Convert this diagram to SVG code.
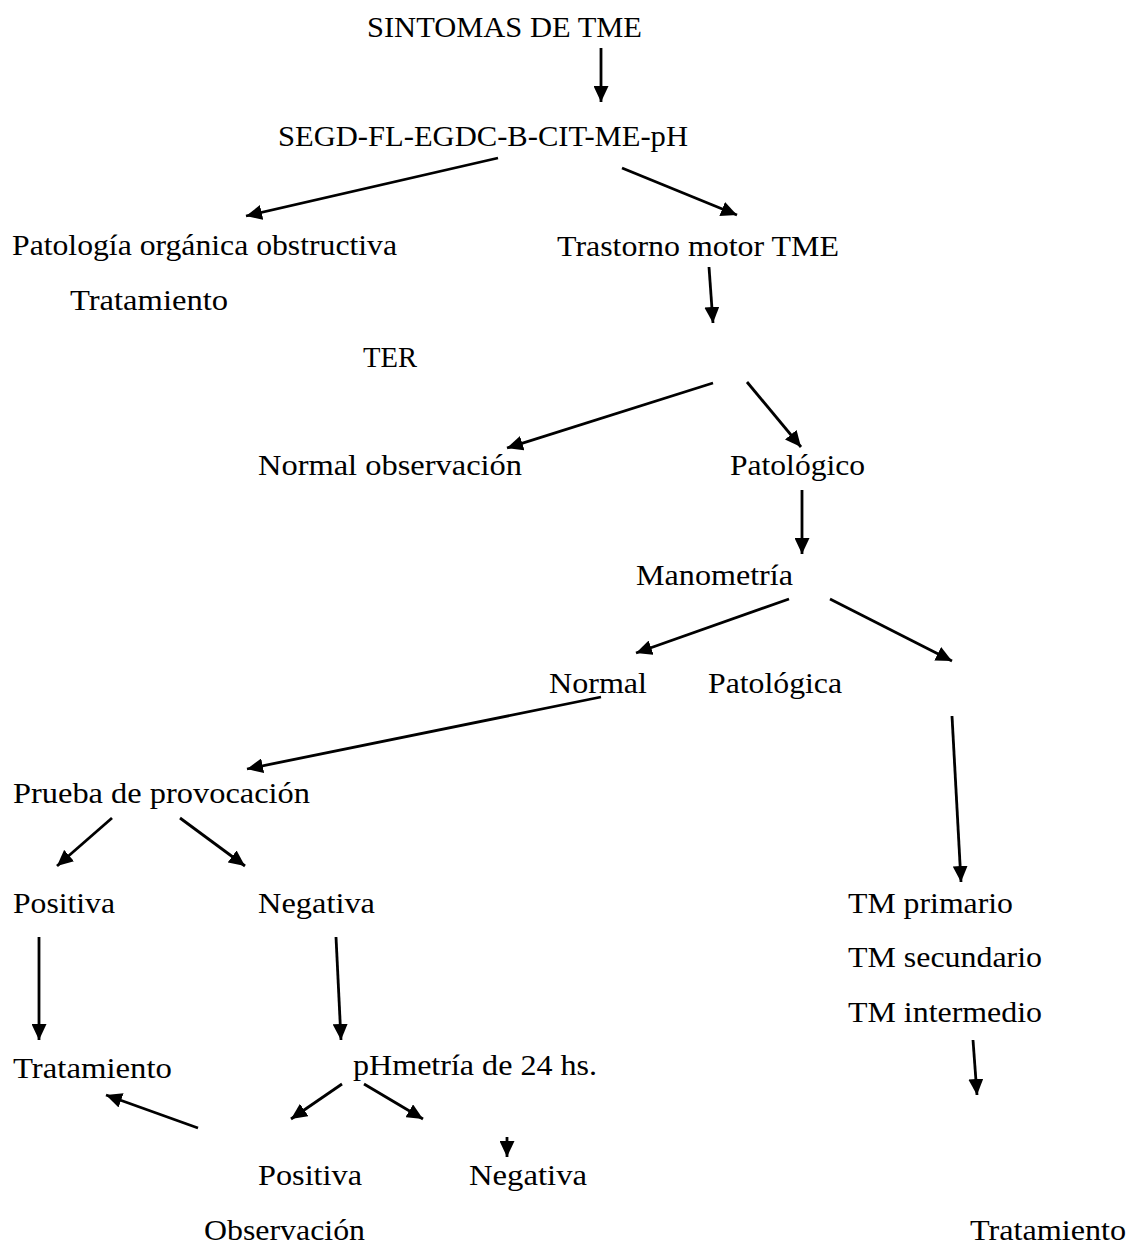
<svg xmlns="http://www.w3.org/2000/svg" width="1130" height="1246" viewBox="0 0 1130 1246">
<style>
text{font-family:"Liberation Serif","DejaVu Serif",serif;font-size:30px;fill:#000}
.c line{stroke:#000;stroke-width:2.8;marker-end:url(#ah)}
</style>
<defs>
<marker id="ah" markerUnits="userSpaceOnUse" markerWidth="16" markerHeight="15" viewBox="0 0 16 15" refX="16" refY="7.5" orient="auto">
<path d="M0,0 L16,7.5 L0,15 z" fill="#000"/>
</marker>
</defs>
<rect width="1130" height="1246" fill="#fff"/>
<g id="n1"><text x="367" y="37" textLength="275" lengthAdjust="spacingAndGlyphs">SINTOMAS DE TME</text></g>
<g id="n2"><text x="278" y="146" textLength="410" lengthAdjust="spacingAndGlyphs">SEGD-FL-EGDC-B-CIT-ME-pH</text></g>
<g id="n3"><text x="12" y="255" textLength="385" lengthAdjust="spacingAndGlyphs">Patología orgánica obstructiva</text></g>
<g id="n4"><text x="70" y="310" textLength="158" lengthAdjust="spacingAndGlyphs">Tratamiento</text></g>
<g id="n5"><text x="363" y="367" textLength="54" lengthAdjust="spacingAndGlyphs">TER</text></g>
<g id="n6"><text x="557" y="256" textLength="282" lengthAdjust="spacingAndGlyphs">Trastorno motor TME</text></g>
<g id="n7"><text x="258" y="475" textLength="264" lengthAdjust="spacingAndGlyphs">Normal observación</text></g>
<g id="n8"><text x="730" y="475" textLength="135" lengthAdjust="spacingAndGlyphs">Patológico</text></g>
<g id="n9"><text x="636" y="585" textLength="157" lengthAdjust="spacingAndGlyphs">Manometría</text></g>
<g id="n10"><text x="549" y="693" textLength="98" lengthAdjust="spacingAndGlyphs">Normal</text></g>
<g id="n11"><text x="708" y="693" textLength="134" lengthAdjust="spacingAndGlyphs">Patológica</text></g>
<g id="n12"><text x="13" y="803" textLength="297" lengthAdjust="spacingAndGlyphs">Prueba de provocación</text></g>
<g id="n13"><text x="13" y="913" textLength="102" lengthAdjust="spacingAndGlyphs">Positiva</text></g>
<g id="n14"><text x="258" y="913" textLength="117" lengthAdjust="spacingAndGlyphs">Negativa</text></g>
<g id="n15"><text x="848" y="913" textLength="165" lengthAdjust="spacingAndGlyphs">TM primario</text></g>
<g id="n16"><text x="848" y="967" textLength="194" lengthAdjust="spacingAndGlyphs">TM secundario</text></g>
<g id="n17"><text x="848" y="1022" textLength="194" lengthAdjust="spacingAndGlyphs">TM intermedio</text></g>
<g id="n18"><text x="13" y="1078" textLength="159" lengthAdjust="spacingAndGlyphs">Tratamiento</text></g>
<g id="n19"><text x="353" y="1075" textLength="244" lengthAdjust="spacingAndGlyphs">pHmetría de 24 hs.</text></g>
<g id="n20"><text x="258" y="1185" textLength="104" lengthAdjust="spacingAndGlyphs">Positiva</text></g>
<g id="n21"><text x="469" y="1185" textLength="118" lengthAdjust="spacingAndGlyphs">Negativa</text></g>
<g id="n22"><text x="204" y="1240" textLength="161" lengthAdjust="spacingAndGlyphs">Observación</text></g>
<g id="n23"><text x="970" y="1240" textLength="156" lengthAdjust="spacingAndGlyphs">Tratamiento</text></g>
<g id="connectors" class="c">
<line x1="601" y1="48" x2="601" y2="102"/>
<line x1="498" y1="158" x2="246" y2="216"/>
<line x1="622" y1="168" x2="737" y2="215"/>
<line x1="709" y1="267" x2="713" y2="323"/>
<line x1="713" y1="383" x2="507" y2="448"/>
<line x1="747" y1="382" x2="801" y2="447"/>
<line x1="802" y1="490" x2="802" y2="554"/>
<line x1="789" y1="599" x2="636" y2="653"/>
<line x1="830" y1="599" x2="952" y2="661"/>
<line x1="601" y1="697" x2="247" y2="769"/>
<line x1="112" y1="818" x2="57" y2="866"/>
<line x1="180" y1="818" x2="245" y2="866"/>
<line x1="39" y1="937" x2="39" y2="1040"/>
<line x1="336" y1="937" x2="341" y2="1040"/>
<line x1="952" y1="716" x2="961" y2="882"/>
<line x1="973" y1="1040" x2="977" y2="1095"/>
<line x1="342" y1="1084" x2="291" y2="1119"/>
<line x1="364" y1="1084" x2="423" y2="1119"/>
<line x1="507" y1="1137" x2="507" y2="1157"/>
<line x1="198" y1="1128" x2="106" y2="1095"/>
</g>
</svg>
